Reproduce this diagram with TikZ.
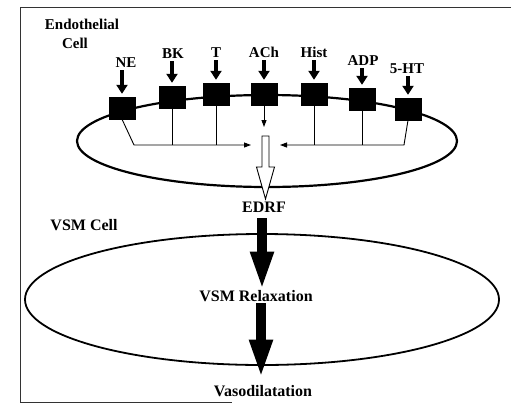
\documentclass[tikz,border=0pt]{standalone}
\usepackage{fontspec}
\setmainfont{Liberation Serif}
\usetikzlibrary{arrows.meta,shapes.geometric,calc}
\begin{document}
\begin{tikzpicture}[x=1pt,y=-1pt,
  lbl/.style={font=\fontsize{15}{17}\selectfont\bfseries, inner sep=0pt, anchor=base},
  big/.style={font=\fontsize{16}{18}\selectfont\bfseries, inner sep=0pt, anchor=base},
  rec/.style={fill=black, draw=black, minimum width=26pt, minimum height=22pt, inner sep=0pt},
  recarrow/.style={line width=3.8pt, -{Triangle[width=11pt,length=9pt]}, shorten <=3pt, shorten >=3pt},
  wire/.style={line width=0.9pt},
  wirearrow/.style={line width=0.9pt, -{Triangle[width=5pt,length=7pt]}},
  blockarrow/.style={line width=10pt, -{Triangle[width=21pt,length=39pt]}},
  cell/.style={draw, ellipse, inner sep=0pt}]
\useasboundingbox (0,0) rectangle (511,405);
% frame
\draw[line width=0.8pt, black!80] (511,7) -- (20,7) -- (20,402) -- (232,402);
% titles
\node[lbl] (endo) at (82,29) {Endothelial};
\node[lbl] (cellt) at (75,48) {Cell};
\node[big] (vsmc) at (84,230) {VSM Cell};
% endothelial cell
\node[cell, line width=2.2pt, minimum width=380pt, minimum height=92pt] (ecell) at (267,141) {};
% VSM cell
\node[cell, line width=1.8pt, minimum width=474pt, minimum height=131pt] (vcell) at (262,299.5) {};
% receptor boxes
\node[rec] (bNE) at (122,108) {};
\node[rec] (bBK) at (172,97) {};
\node[rec] (bT) at (216,94) {};
\node[rec] (bACh) at (264,94) {};
\node[rec] (bHist) at (314,94) {};
\node[rec] (bADP) at (362,99) {};
\node[rec] (bHT) at (408,109) {};
% receptor labels
\node[lbl] (lNE) at (126,67) {NE};
\node[lbl] (lBK) at (173,58) {BK};
\node[lbl] (lT) at (216,57) {T};
\node[lbl] (lACh) at (264,57) {ACh};
\node[lbl] (lHist) at (314,57) {Hist};
\node[lbl] (lADP) at (363,65) {ADP};
\node[lbl] (lHT) at (407,73) {5-HT};
% receptor arrows
\foreach \n in {NE,BK,T,ACh,Hist,ADP,HT}{
  \draw[recarrow] (l\n.south -| b\n.north) -- (b\n.north);
}
% internal signalling
\coordinate (L) at (134,145);
\coordinate (R) at (404,145);
\coordinate (tipL) at (251,145);
\coordinate (tipR) at (280,145);
\coordinate (achEnd) at (264,127);
\draw[wirearrow] (bNE.south) -- (L) -- (tipL);
\draw[wirearrow] (bHT.south) -- (R) -- (tipR);
\foreach \n in {BK,T,Hist,ADP}{
  \draw[wire] (b\n.south) -- (b\n.south |- L);
}
\draw[wirearrow] (bACh.south) -- (achEnd);
% hollow arrow
\draw[line width=0.9pt, fill=white]
  (262,136) -- (269,136) -- (269,167) -- (274.5,167) -- (265.5,199)
  -- (256.5,167) -- (262,167) -- cycle;
% lower labels
\node[big] (edrf) at (264,212) {EDRF};
\node[big] (relax) at (256,301) {VSM Relaxation};
\node[big] (vaso) at (263,396) {Vasodilatation};
\coordinate (ax1) at (262,0);
\coordinate (ax2) at (261,0);
\draw[blockarrow, shorten <=6pt] (edrf.south -| ax1) -- ($(relax.north -| ax1)+(0,1)$);
\draw[blockarrow, shorten <=2pt] (relax.south -| ax2) -- ($(vaso.north -| ax2)+(0,-6)$);
\end{tikzpicture}
\end{document}
